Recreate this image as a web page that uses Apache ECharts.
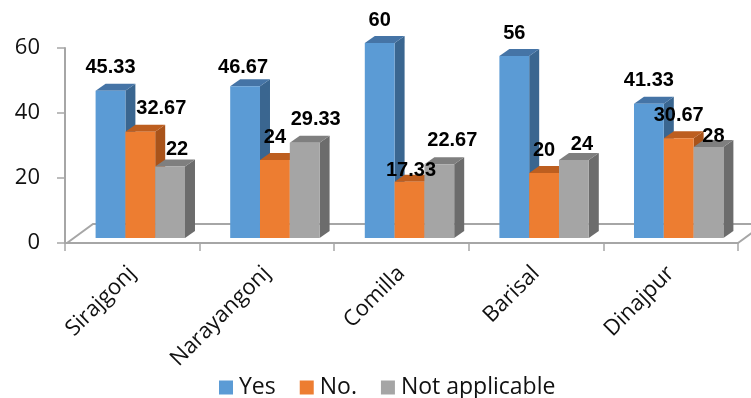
<!DOCTYPE html>
<html>
<head>
<meta charset="utf-8">
<script src="https://cdn.jsdelivr.net/npm/echarts@6/dist/echarts.min.js"></script>
<style>
  html, body { margin: 0; padding: 0; background: #fff; }
  #chart { width: 751px; height: 398px; }
</style>
</head>
<body>
<div id="chart"></div>
<script>
// Survey answers by district (percent of respondents)
const categories = ['Sirajgonj', 'Narayangonj', 'Comilla', 'Barisal', 'Dinajpur'];
const seriesNames = ['Yes', 'No.', 'Not applicable'];
const yesValues = [45.33, 46.67, 60, 56, 41.33];
const noValues = [32.67, 24, 17.33, 20, 30.67];
const naValues = [22, 29.33, 22.67, 24, 28];
const yMin = 0, yMax = 60, yStep = 20;

// face colours per series: front, top, side
const palette = [
  { front: '#5B9BD5', top: '#4574A6', side: '#3A6690' },
  { front: '#ED7D31', top: '#BD5E1F', side: '#A9531A' },
  { front: '#A5A5A5', top: '#7F7F7F', side: '#6C6C6C' }
];
const AXIS_GREY = '#A6A6A6';

// depth of the extruded boxes, in pixels
const DEPTH_X = 10, DEPTH_Y = 7, LIFT = 5;

// small per-label nudges so value labels don't collide
const labelNudge = {
  '0:1': [-2, 4.5],
  '1:0': [21, 0],
  '1:2': [1.5, 12],
  '2:0': [-3, 6],
  '2:1': [1, 0],
  '2:2': [3, -1],
  '2:3': [-2, 7.5],
  '2:4': [-5, 12]
};

// front-face geometry of bar k at a category
function barBox(k, api) {
  const idx = api.value(0);
  const v = api.value(1);
  const top = api.coord([idx, v]);
  const base = api.coord([idx, 0]);
  const band = api.size([1, 0])[0];
  const w = band * 0.2214;
  const x0 = top[0] - band * 0.2727 + k * w;
  return { idx: idx, v: v, x0: x0, w: w, yT: top[1] - LIFT, yB: base[1] - LIFT };
}

function barRenderer(k) {
  return function (params, api) {
    const b = barBox(k, api);
    const c = palette[k];
    const x0 = b.x0, w = b.w, yT = b.yT, yB = b.yB;
    return {
      type: 'group',
      children: [
        {
          type: 'polygon',
          shape: { points: [[x0 + w, yT], [x0 + w + DEPTH_X, yT - DEPTH_Y], [x0 + w + DEPTH_X, yB - DEPTH_Y], [x0 + w, yB]] },
          style: { fill: c.side }
        },
        {
          type: 'polygon',
          shape: { points: [[x0, yT], [x0 + DEPTH_X, yT - DEPTH_Y], [x0 + w + DEPTH_X, yT - DEPTH_Y], [x0 + w, yT]] },
          style: { fill: c.top }
        },
        {
          type: 'rect',
          shape: { x: x0, y: yT, width: w, height: yB - yT },
          style: { fill: c.front }
        }
      ]
    };
  };
}

function labelRenderer(k) {
  return function (params, api) {
    const b = barBox(k, api);
    const n = labelNudge[k + ':' + b.idx] || [0, 0];
    return {
      type: 'text',
      style: {
        x: b.x0 + b.w / 2 + (k === 2 ? 10 : 0) + n[0],
        y: b.yT - 23 + n[1],
        text: String(b.v),
        fill: '#000',
        font: 'bold 20px "Liberation Sans", Arial, sans-serif',
        align: 'center',
        verticalAlign: 'middle'
      }
    };
  };
}

// floor slab under the bars, taken from the grid rectangle
function floorRenderer(params, api) {
  const cs = params.coordSys;
  const x1 = cs.x, x2 = cs.x + cs.width, yF = cs.y + cs.height;
  const dX = 26, dY = 19;
  return {
    type: 'group',
    children: [
      {
        type: 'polyline',
        shape: { points: [[x1 + 2, yF], [x1 + 2 + dX, yF - dY], [x2 + dX + 10, yF - dY]] },
        style: { stroke: AXIS_GREY, lineWidth: 2, fill: null }
      },
      {
        type: 'polyline',
        shape: { points: [[x2, yF], [x2 + dX, yF - dY]] },
        style: { stroke: AXIS_GREY, lineWidth: 2, fill: null }
      }
    ]
  };
}

const valueSets = [yesValues, noValues, naValues];
const toData = function (vals) { return vals.map(function (v, i) { return [i, v]; }); };

const barSeries = valueSets.map(function (vals, k) {
  return {
    type: 'custom',
    name: seriesNames[k],
    itemStyle: { color: palette[k].front },
    renderItem: barRenderer(k),
    encode: { x: 0, y: 1 },
    data: toData(vals),
    z: 2 + k
  };
});

const labelSeries = valueSets.map(function (vals, k) {
  return {
    type: 'custom',
    name: seriesNames[k] + ' labels',
    silent: true,
    renderItem: labelRenderer(k),
    encode: { x: 0, y: 1 },
    data: toData(vals),
    z: 10
  };
});

const chart = echarts.init(document.getElementById('chart'), null, { renderer: 'canvas' });
chart.setOption({
  animation: false,
  backgroundColor: '#fff',
  grid: { left: 65, right: 13, top: 48, bottom: 155, containLabel: false },
  legend: {
    data: seriesNames,
    left: 214,
    top: 371,
    icon: 'rect',
    itemWidth: 14,
    itemHeight: 14,
    itemGap: 24,
    textStyle: { fontFamily: '"Open Sans", sans-serif', fontSize: 23, color: '#111', padding: [0, 0, 0, 1] }
  },
  xAxis: {
    type: 'category',
    data: categories,
    axisLine: { lineStyle: { color: AXIS_GREY, width: 2 } },
    axisTick: { show: true, length: 8, lineStyle: { color: AXIS_GREY, width: 1.5 } },
    axisLabel: {
      rotate: 45,
      margin: 27,
      interval: 0,
      fontFamily: '"Open Sans", sans-serif',
      fontSize: 22,
      color: '#111'
    }
  },
  yAxis: {
    type: 'value',
    min: yMin,
    max: yMax,
    interval: yStep,
    axisLine: { show: true, lineStyle: { color: AXIS_GREY, width: 2 } },
    axisTick: { show: true, length: 8, lineStyle: { color: AXIS_GREY, width: 1.5 } },
    splitLine: { show: false },
    axisLabel: {
      margin: 25,
      fontFamily: '"Open Sans", sans-serif',
      fontSize: 22,
      color: '#111'
    }
  },
  series: [
    {
      type: 'custom',
      name: 'floor',
      silent: true,
      renderItem: floorRenderer,
      data: [[0, 0]],
      z: 1
    }
  ].concat(barSeries, labelSeries)
});
</script>
</body>
</html>
